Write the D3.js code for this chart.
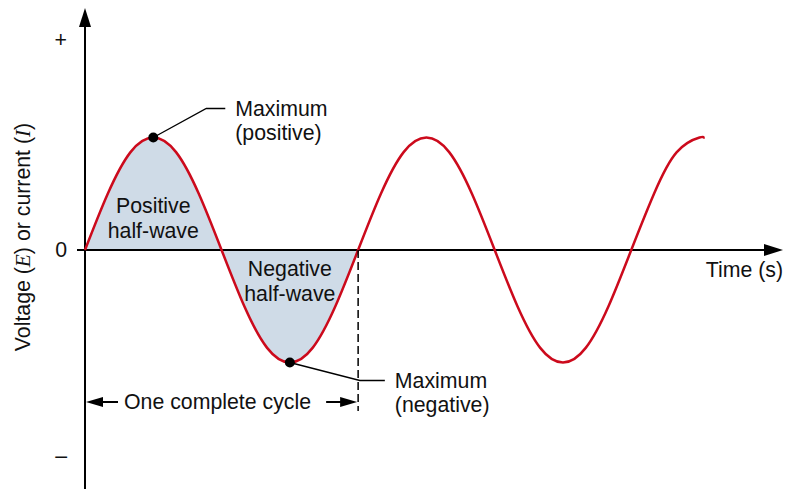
<!DOCTYPE html>
<html>
<head>
<meta charset="utf-8">
<script src="https://cdn.jsdelivr.net/npm/d3@7"></script>
<style>
  body { margin: 0; background: #fff; }
  svg text { font-family: "Liberation Sans", Arial, sans-serif; font-size: 21.3px; fill: #111; }
</style>
</head>
<body>
<svg id="chart" width="787" height="489"></svg>
<script>
const phaseDeg = [0, 30, 60, 90, 120, 150, 180, 210, 240, 270, 300, 330, 360,
  390, 420, 450, 480, 510, 540, 570, 600, 630, 660, 690, 720, 750, 780, 810, 815]
const signal = [0, 0.5, 0.87, 1, 0.87, 0.5, 0, -0.5, -0.87, -1, -0.87, -0.5, 0,
  0.5, 0.87, 1, 0.87, 0.5, 0, -0.5, -0.87, -1, -0.87, -0.5, 0, 0.5, 0.87, 1, 0.99]

const yTickValues = [1.87, 0, -1.83]
const yTickLabels = ['+', '0', '\u2013']

const halfWaveNames = [['Positive', 'half-wave'], ['Negative', 'half-wave']]
const halfWavePhase = [90, 270]
const halfWaveLevel = [0.33, -0.23]

const maxNames = [['Maximum', '(positive)'], ['Maximum', '(negative)']]
const maxPhase = [90, 270]
const maxLevel = [1, -1]

const cycleLabel = 'One complete cycle'
const cycleEnd = 360

let svg = d3.select('#chart')
let width = 787
let height = 489

let x = d3.scaleLinear().domain([0, 920]).range([85, 783])
let y = d3.scaleLinear().domain([-1, 1]).range([362.5, 137.5])

let points = phaseDeg.map((p, i) => ({ p: p, v: signal[i] }))

// shaded first cycle
let area = d3.area()
  .x(d => x(d.p))
  .y0(y(0))
  .y1(d => y(d.v))
  .curve(d3.curveNatural)

svg.append('path')
  .datum(points.filter(d => d.p <= cycleEnd))
  .attr('d', area)
  .attr('fill', '#cfdbe7')

// axes
svg.append('line')
  .attr('x1', x(0)).attr('x2', x(0))
  .attr('y1', height).attr('y2', 24)
  .attr('stroke', '#000').attr('stroke-width', 2)
svg.append('path')
  .attr('d', `M${x(0)},8L${x(0) - 6},27L${x(0) + 6},27Z`)
  .attr('fill', '#000')

svg.append('line')
  .attr('x1', x(0) - 8).attr('x2', 768)
  .attr('y1', y(0)).attr('y2', y(0))
  .attr('stroke', '#000').attr('stroke-width', 2)
svg.append('path')
  .attr('d', `M783,${y(0)}L764,${y(0) - 6}L764,${y(0) + 6}Z`)
  .attr('fill', '#000')

let yAxis = svg.append('g')
  .attr('transform', `translate(${x(0)},0)`)
  .call(d3.axisLeft(y)
    .tickValues(yTickValues)
    .tickFormat((d, i) => yTickLabels[i])
    .tickSize(0)
    .tickPadding(18))
yAxis.select('.domain').remove()
yAxis.selectAll('text')
  .attr('font-family', null).attr('font-size', null)
  .attr('fill', '#111')

svg.append('text')
  .attr('x', width - 4)
  .attr('y', 277)
  .attr('text-anchor', 'end')
  .text('Time (s)')

let ylab = svg.append('text')
  .attr('transform', 'translate(30,237) rotate(-90)')
  .attr('text-anchor', 'middle')
ylab.append('tspan').text('Voltage (')
ylab.append('tspan').text('E').style('font-family', '"Liberation Serif", serif').style('font-style', 'italic')
ylab.append('tspan').text(') or current (')
ylab.append('tspan').text('I').style('font-family', '"Liberation Serif", serif').style('font-style', 'italic')
ylab.append('tspan').text(')')

// the wave
let line = d3.line()
  .x(d => x(d.p))
  .y(d => y(d.v))
  .curve(d3.curveNatural)

svg.append('path')
  .datum(points)
  .attr('d', line)
  .attr('fill', 'none')
  .attr('stroke', '#cc0a1c')
  .attr('stroke-width', 2.5)

// half-wave labels
halfWaveNames.forEach((lines, i) => {
  let t = svg.append('text')
    .attr('text-anchor', 'middle')
    .attr('x', x(halfWavePhase[i]))
    .attr('y', y(halfWaveLevel[i]))
  lines.forEach((s, j) => {
    t.append('tspan').attr('x', x(halfWavePhase[i])).attr('dy', j ? 25 : 0).text(s)
  })
})

// dashed end of cycle
svg.append('line')
  .attr('x1', x(cycleEnd)).attr('x2', x(cycleEnd))
  .attr('y1', y(0)).attr('y2', 411)
  .attr('stroke', '#000').attr('stroke-width', 1.5)
  .attr('stroke-dasharray', '8,4')

// cycle bracket
let by = 402
svg.append('text')
  .attr('x', (x(0) + x(cycleEnd)) / 2 - 4)
  .attr('y', by + 7)
  .attr('text-anchor', 'middle')
  .text(cycleLabel)
svg.append('line')
  .attr('x1', x(0) + 10).attr('x2', x(0) + 33)
  .attr('y1', by).attr('y2', by)
  .attr('stroke', '#000').attr('stroke-width', 2)
svg.append('path')
  .attr('d', `M${x(0) + 1},${by}L${x(0) + 18},${by - 5}L${x(0) + 18},${by + 5}Z`)
svg.append('line')
  .attr('x1', x(cycleEnd) - 32).attr('x2', x(cycleEnd) - 10)
  .attr('y1', by).attr('y2', by)
  .attr('stroke', '#000').attr('stroke-width', 2)
svg.append('path')
  .attr('d', `M${x(cycleEnd) - 1},${by}L${x(cycleEnd) - 18},${by - 5}L${x(cycleEnd) - 18},${by + 5}Z`)

// maximum callouts
let elbow = [[53, -29], [70, 18]]
let tail = [19, 25]
maxNames.forEach((lines, i) => {
  let px = x(maxPhase[i])
  let py = y(maxLevel[i])
  let ex = px + elbow[i][0]
  let ey = py + elbow[i][1]
  svg.append('path')
    .attr('d', `M${px},${py}L${ex},${ey}L${ex + tail[i]},${ey}`)
    .attr('fill', 'none')
    .attr('stroke', '#000').attr('stroke-width', 1.3)
  svg.append('circle')
    .attr('cx', px).attr('cy', py).attr('r', 5)
    .attr('fill', '#000')
  let t = svg.append('text')
    .attr('x', ex + tail[i] + 10)
    .attr('y', ey + 7)
  lines.forEach((s, j) => {
    t.append('tspan').attr('x', ex + tail[i] + 10).attr('dy', j ? 24 : 0).text(s)
  })
})
</script>
</body>
</html>
